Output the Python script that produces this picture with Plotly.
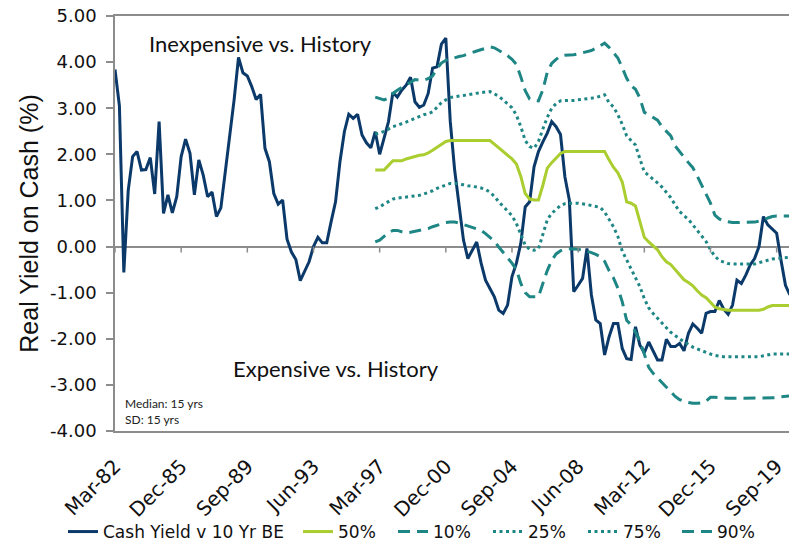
import plotly.graph_objects as go

# ---------------- categories (quarterly, Mar-82 .. Jun-20) ----------------
month_names = ["Mar", "Jun", "Sep", "Dec"]
quarters = []
for yr in range(1982, 2021):
    for m in month_names:
        quarters.append(f"{m}-{yr % 100:02d}")
quarters = quarters[:154]

tick_labels = ["Mar-82", "Dec-85", "Sep-89", "Jun-93", "Mar-97", "Dec-00",
               "Sep-04", "Jun-08", "Mar-12", "Dec-15", "Sep-19"]
y_tick_vals = [5, 4, 3, 2, 1, 0, -1, -2, -3, -4]
y_tick_text = ["5.00", "4.00", "3.00", "2.00", "1.00", "0.00",
               "-1.00", "-2.00", "-3.00", "-4.00"]

# ---------------- series values ----------------
cash_yield = [
    3.84, 3.05, -0.56, 1.22, 1.95, 2.06, 1.66, 1.67, 1.93, 1.14,      # 0-9
    2.71, 0.72, 1.12, 0.73, 1.08, 1.95, 2.33, 2.02, 1.12, 1.88,       # 10-19
    1.55, 1.08, 1.18, 0.65, 0.84, 1.59, 2.31, 3.18, 4.10, 3.77,       # 20-29
    3.70, 3.47, 3.19, 3.30, 2.13, 1.84, 1.15, 0.92, 1.01, 0.16,       # 30-39
    -0.12, -0.28, -0.74, -0.55, -0.33, 0.00, 0.20, 0.08, 0.08, 0.54,  # 40-49
    0.97, 1.84, 2.49, 2.87, 2.78, 2.87, 2.42, 2.25, 2.14, 2.49,       # 50-59
    2.00, 2.35, 2.71, 3.34, 3.24, 3.39, 3.50, 3.67, 3.14, 3.02,       # 60-69
    3.07, 3.32, 3.87, 3.90, 4.39, 4.52, 2.72, 1.66, 0.86, 0.14,       # 70-79
    -0.26, -0.08, 0.10, -0.36, -0.73, -0.91, -1.09, -1.38, -1.45, -1.27,  # 80-89
    -0.65, -0.36, 0.07, 0.86, 0.97, 1.73, 2.06, 2.27, 2.46, 2.71,     # 90-99
    2.60, 2.43, 1.51, 1.01, -0.98, -0.84, -0.69, -0.04, -1.05, -1.59,  # 100-109
    -1.67, -2.35, -1.96, -1.67, -1.67, -2.21, -2.43, -2.45, -1.74, -2.14,  # 110-119
    -2.30, -2.07, -2.28, -2.46, -2.46, -2.01, -2.17, -2.17, -2.10, -2.26,  # 120-129
    -1.88, -1.68, -1.77, -1.88, -1.45, -1.41, -1.41, -1.17, -1.36, -1.47,  # 130-139
    -1.27, -0.73, -0.80, -0.62, -0.40, -0.26, 0.00, 0.65, 0.47, 0.38,  # 140-149
    0.29, -0.30, -0.84, -1.05,                                         # 150-153
]

band_start = 59  # percentile bands begin at Dec-96

p50 = [
    1.66, 1.66, 1.66, 1.76, 1.86, 1.86, 1.86, 1.90, 1.93, 1.95,       # 59-68
    1.98, 1.99, 2.03, 2.09, 2.15, 2.21, 2.28, 2.30, 2.30, 2.30,       # 69-78
    2.30, 2.30, 2.30, 2.30, 2.30, 2.30, 2.30, 2.22, 2.14, 2.07,       # 79-88
    1.99, 1.90, 1.79, 1.52, 1.15, 1.03, 1.01, 1.01, 1.33, 1.70,       # 89-98
    1.82, 1.93, 2.02, 2.06, 2.06, 2.06, 2.06, 2.06, 2.06, 2.06,       # 99-108
    2.06, 2.06, 2.06, 1.88, 1.72, 1.60, 1.40, 0.97, 0.94, 0.88,       # 109-118
    0.55, 0.20, 0.10, 0.02, -0.07, -0.22, -0.33, -0.39, -0.50, -0.63,  # 119-128
    -0.72, -0.78, -0.85, -0.96, -1.05, -1.11, -1.20, -1.31, -1.35, -1.37,  # 129-138
    -1.38, -1.38, -1.38, -1.38, -1.38, -1.38, -1.38, -1.38, -1.36, -1.31,  # 139-148
    -1.28, -1.28, -1.28, -1.28, -1.28,                                 # 149-153
]

p10 = [
    0.10, 0.14, 0.22, 0.30, 0.35, 0.35, 0.32, 0.30, 0.31, 0.33,       # 59-68
    0.35, 0.36, 0.39, 0.43, 0.46, 0.49, 0.52, 0.53, 0.53, 0.51,       # 69-78
    0.48, 0.45, 0.42, 0.39, 0.35, 0.28, 0.20, 0.12, -0.01, -0.12,     # 79-88
    -0.23, -0.36, -0.50, -0.80, -1.00, -1.09, -1.09, -1.09, -0.80, -0.52,  # 89-98
    -0.30, -0.16, -0.09, -0.05, -0.05, -0.05, -0.06, -0.08, -0.10, -0.13,  # 99-108
    -0.17, -0.22, -0.32, -0.52, -0.68, -0.90, -1.20, -1.60, -1.70, -1.85,  # 109-118
    -2.05, -2.35, -2.62, -2.75, -2.85, -2.95, -3.07, -3.16, -3.25, -3.32,  # 119-128
    -3.36, -3.38, -3.40, -3.40, -3.39, -3.35, -3.27, -3.27, -3.28, -3.29,  # 129-138
    -3.29, -3.29, -3.29, -3.29, -3.29, -3.29, -3.29, -3.29, -3.29, -3.29,  # 139-148
    -3.29, -3.28, -3.26, -3.25, -3.24,                                 # 149-153
]

p25 = [
    0.82, 0.86, 0.92, 0.98, 1.03, 1.05, 1.06, 1.07, 1.08, 1.09,       # 59-68
    1.11, 1.14, 1.17, 1.21, 1.26, 1.30, 1.34, 1.37, 1.37, 1.36,       # 69-78
    1.34, 1.32, 1.31, 1.29, 1.27, 1.24, 1.18, 1.09, 0.97, 0.87,       # 79-88
    0.77, 0.67, 0.50, 0.28, 0.03, -0.06, -0.08, -0.05, 0.27, 0.58,    # 89-98
    0.72, 0.81, 0.89, 0.93, 0.94, 0.94, 0.94, 0.93, 0.91, 0.89,       # 99-108
    0.87, 0.85, 0.75, 0.60, 0.43, 0.22, -0.10, -0.29, -0.48, -0.70,   # 109-118
    -0.87, -1.13, -1.33, -1.45, -1.56, -1.66, -1.76, -1.86, -1.93, -2.02,  # 119-128
    -2.07, -2.12, -2.18, -2.22, -2.26, -2.29, -2.33, -2.36, -2.38, -2.39,  # 129-138
    -2.39, -2.39, -2.39, -2.39, -2.39, -2.39, -2.39, -2.39, -2.37, -2.35,  # 139-148
    -2.33, -2.33, -2.33, -2.33, -2.33,                                 # 149-153
]

p75 = [
    2.44, 2.46, 2.50, 2.55, 2.60, 2.63, 2.66, 2.70, 2.74, 2.78,       # 59-68
    2.83, 2.86, 2.88, 2.92, 3.02, 3.12, 3.18, 3.23, 3.25, 3.26,       # 69-78
    3.28, 3.29, 3.31, 3.33, 3.34, 3.35, 3.36, 3.31, 3.26, 3.18,       # 79-88
    3.09, 3.01, 2.85, 2.60, 2.30, 2.17, 2.13, 2.28, 2.55, 2.80,       # 89-98
    3.00, 3.10, 3.16, 3.17, 3.17, 3.17, 3.18, 3.19, 3.20, 3.21,       # 99-108
    3.23, 3.26, 3.29, 3.12, 3.03, 2.86, 2.65, 2.40, 2.29, 2.20,       # 109-118
    1.90, 1.62, 1.54, 1.47, 1.38, 1.29, 1.18, 1.06, 0.90, 0.76,       # 119-128
    0.67, 0.59, 0.47, 0.35, 0.24, 0.11, -0.07, -0.21, -0.30, -0.34,   # 129-138
    -0.37, -0.38, -0.38, -0.38, -0.38, -0.38, -0.38, -0.35, -0.32, -0.29,  # 139-148
    -0.27, -0.26, -0.25, -0.24, -0.23,                                 # 149-153
]

p90 = [
    3.24, 3.21, 3.18, 3.22, 3.32, 3.39, 3.45, 3.50, 3.56, 3.62,       # 59-68
    3.61, 3.61, 3.64, 3.70, 3.86, 3.98, 4.04, 4.07, 4.09, 4.12,       # 69-78
    4.14, 4.18, 4.21, 4.24, 4.27, 4.30, 4.33, 4.31, 4.25, 4.20,       # 79-88
    4.14, 4.06, 3.95, 3.68, 3.38, 3.20, 3.17, 3.16, 3.40, 3.78,       # 89-98
    3.97, 4.06, 4.13, 4.15, 4.15, 4.16, 4.18, 4.20, 4.22, 4.25,       # 99-108
    4.30, 4.36, 4.41, 4.32, 4.20, 4.09, 3.88, 3.65, 3.49, 3.41,       # 109-118
    3.22, 2.91, 2.86, 2.80, 2.74, 2.60, 2.50, 2.40, 2.18, 2.05,       # 119-128
    1.94, 1.82, 1.71, 1.53, 1.33, 1.15, 0.94, 0.68, 0.60, 0.55,       # 129-138
    0.53, 0.52, 0.52, 0.52, 0.52, 0.52, 0.53, 0.55, 0.57, 0.62,       # 139-148
    0.65, 0.66, 0.66, 0.66, 0.66,                                      # 149-153
]

# ---------------- styling ----------------
NAVY = "#0B3A6A"
LIME = "#AACD2F"
TEAL = "#1E8684"
AXIS_GREY = "#8C8C8C"
TICK_FONT = dict(family="DejaVu Sans", size=18, color="#111111")
XTICK_FONT = dict(family="DejaVu Sans", size=20, color="#111111")
LEGEND_FONT = dict(family="DejaVu Sans", size=17, color="#111111")
NOTE_FONT = "Lato"

band_x = quarters[band_start:]

series = [
    dict(name="Cash Yield v 10 Yr BE", x=quarters, y=cash_yield, color=NAVY, dash="solid"),
    dict(name="50%", x=band_x, y=p50, color=LIME, dash="solid"),
    dict(name="10%", x=band_x, y=p10, color=TEAL, dash="12px,7px"),
    dict(name="25%", x=band_x, y=p25, color=TEAL, dash="3px,3.5px"),
    dict(name="75%", x=band_x, y=p75, color=TEAL, dash="3px,3.5px"),
    dict(name="90%", x=band_x, y=p90, color=TEAL, dash="12px,7px"),
]
legend_left_px = [63, 298, 393, 488, 583, 677]

W, H = 789, 542
fig = go.Figure()
layout_legends = {}
for i, s in enumerate(series):
    key = "legend" if i == 0 else f"legend{i + 1}"
    fig.add_trace(go.Scatter(
        x=s["x"], y=s["y"], mode="lines", name=s["name"],
        line=dict(color=s["color"], width=3, dash=s["dash"]),
        legend=key, hoverinfo="skip",
    ))
    layout_legends[key] = dict(
        x=legend_left_px[i] / W, xref="container", xanchor="left",
        y=(H - 532) / H, yref="container", yanchor="middle",
        orientation="h", font=LEGEND_FONT, bgcolor="rgba(0,0,0,0)",
        borderwidth=0, itemwidth=30,
    )

tick_idx = [quarters.index(t) for t in tick_labels]

# small tick marks on the zero line (category axis crosses at 0)
shapes = []
for ti in tick_idx:
    shapes.append(dict(
        type="line", xref="x", yref="y", x0=ti, x1=ti,
        ysizemode="pixel", yanchor=0, y0=0, y1=-6,
        line=dict(color=AXIS_GREY, width=1.5),
    ))

annotations = [
    dict(text="Inexpensive vs. History", xref="paper", yref="paper",
         x=(260 - 115) / 674, y=(431 - 43) / 415, xanchor="center", yanchor="middle",
         showarrow=False, font=dict(family=NOTE_FONT, size=22, color="#111111")),
    dict(text="Expensive vs. History", xref="paper", yref="paper",
         x=(336 - 115) / 674, y=(431 - 368) / 415, xanchor="center", yanchor="middle",
         showarrow=False, font=dict(family=NOTE_FONT, size=22, color="#111111")),
    dict(text="Median: 15 yrs", xref="paper", yref="paper",
         x=(123 - 115) / 674, y=(431 - 403) / 415, xanchor="left", yanchor="middle",
         showarrow=False, font=dict(family=NOTE_FONT, size=12, color="#222222")),
    dict(text="SD: 15 yrs", xref="paper", yref="paper",
         x=(123 - 115) / 674, y=(431 - 419) / 415, xanchor="left", yanchor="middle",
         showarrow=False, font=dict(family=NOTE_FONT, size=12, color="#222222")),
]

fig.update_layout(
    width=W, height=H,
    margin=dict(l=115, r=0, t=16, b=111, pad=0),
    paper_bgcolor="white", plot_bgcolor="white",
    showlegend=True,
    shapes=shapes, annotations=annotations,
    **layout_legends,
)
fig.update_xaxes(
    type="category", categoryorder="array", categoryarray=quarters,
    range=[0, 152.8],
    tickmode="array", tickvals=tick_labels, ticktext=tick_labels,
    tickangle=-45, tickfont=XTICK_FONT, ticks="", ticklabelstandoff=14,
    showline=True, linecolor=AXIS_GREY, linewidth=1.5, mirror=True,
    showgrid=False, zeroline=False, automargin=False,
)
fig.update_yaxes(
    range=[-4, 5], tickmode="array", tickvals=y_tick_vals, ticktext=y_tick_text,
    tickfont=TICK_FONT, ticks="outside", ticklen=7, tickwidth=1.5, tickcolor=AXIS_GREY,
    ticklabelstandoff=6,
    showline=True, linecolor=AXIS_GREY, linewidth=1.5,
    showgrid=False, zeroline=True, zerolinecolor=AXIS_GREY, zerolinewidth=1.5,
    automargin=False,
    title=dict(text="Real Yield on Cash (%)", standoff=4,
               font=dict(family="Liberation Sans", size=25, color="#111111")),
)

fig.write_html("out.html", config={"displayModeBar": False},
               post_script="document.body.style.margin='0';document.body.style.overflow='hidden';")
